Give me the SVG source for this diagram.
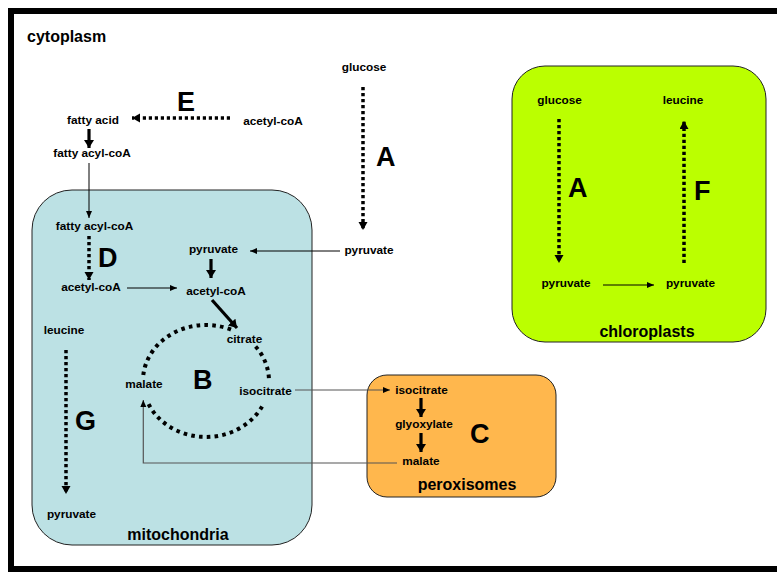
<svg xmlns="http://www.w3.org/2000/svg" width="777" height="574" viewBox="0 0 777 574">
<style>
text{font-family:"Liberation Sans",Arial,Helvetica,sans-serif;font-weight:bold;fill:#000}
.s{font-size:11.8px;text-anchor:middle}
.big{font-size:27px}
.lab{font-size:16px;text-anchor:middle}
.box{stroke:#222;stroke-width:1}
.dot{fill:none;stroke:#000;stroke-width:3.5;stroke-dasharray:3.2 2.8}
.circ{fill:none;stroke:#000;stroke-width:4;stroke-dasharray:3.6 4.2}
.thick{stroke:#000;stroke-width:3.2;fill:none}
.thin{stroke:#000;stroke-width:1;fill:none}
.gray{stroke:#555;stroke-width:1.2;fill:none}
</style>
<defs>
<marker id="hd" markerUnits="userSpaceOnUse" markerWidth="9" markerHeight="10" refX="8" refY="4.5" orient="auto"><path d="M0,0 L8,4.5 L0,9 z" fill="#000"/></marker>
<marker id="hk" markerUnits="userSpaceOnUse" markerWidth="9" markerHeight="11" refX="8" refY="5" orient="auto"><path d="M0,0 L8,5 L0,10 z" fill="#000"/></marker>
<marker id="ht" markerUnits="userSpaceOnUse" markerWidth="8" markerHeight="7" refX="7" refY="3" orient="auto"><path d="M0,0 L7,3 L0,6 z" fill="#000"/></marker>
</defs>
<rect width="777" height="574" fill="#fff"/>
<rect id="cytoplasm-frame" x="11" y="11" width="800" height="558" fill="none" stroke="#000" stroke-width="6"/>
<g id="mitochondria"><rect class="box" x="32" y="190" width="280" height="355" rx="40" fill="#bce1e4"/><text class="lab" x="178" y="540">mitochondria</text></g>
<g id="chloroplasts"><rect class="box" x="512" y="66" width="254" height="276" rx="33" fill="#bbff00"/><text class="lab" x="647" y="337">chloroplasts</text></g>
<g id="peroxisomes"><rect class="box" x="367" y="375" width="189" height="122" rx="20" fill="#ffb74d"/><text class="lab" x="467" y="490">peroxisomes</text></g>
<g id="labels">
<text x="27" y="42" style="font-size:16px">cytoplasm</text>
<text class="big" x="177" y="111">E</text>
<text class="big" x="376" y="166">A</text>
<text class="big" x="98" y="267">D</text>
<text class="big" x="193" y="389">B</text>
<text class="big" x="75" y="430">G</text>
<text class="big" x="470" y="443">C</text>
<text class="big" x="568" y="197">A</text>
<text class="big" x="694" y="200">F</text>
</g>
<g id="n-glucose-cyt"><text class="s" x="364" y="71">glucose</text></g>
<g id="n-fattyacid"><text class="s" x="93" y="124">fatty acid</text></g>
<g id="n-acetylcoa-cyt"><text class="s" x="273" y="125">acetyl-coA</text></g>
<g id="n-fattyacylcoa-cyt"><text class="s" x="92" y="157">fatty acyl-coA</text></g>
<g id="n-pyruvate-cyt"><text class="s" x="369" y="254">pyruvate</text></g>
<g id="n-fattyacylcoa-mito"><text class="s" x="94.5" y="230">fatty acyl-coA</text></g>
<g id="n-acetylcoa-mito1"><text class="s" x="91" y="291">acetyl-coA</text></g>
<g id="n-pyruvate-mito"><text class="s" x="213.5" y="253">pyruvate</text></g>
<g id="n-acetylcoa-mito2"><text class="s" x="216" y="295">acetyl-coA</text></g>
<g id="n-citrate"><text class="s" x="244.5" y="342.5">citrate</text></g>
<g id="n-malate-mito"><text class="s" x="144" y="388">malate</text></g>
<g id="n-isocitrate-mito"><text class="s" x="265.5" y="395">isocitrate</text></g>
<g id="n-leucine-mito"><text class="s" x="64" y="334">leucine</text></g>
<g id="n-pyruvate-mito2"><text class="s" x="71.5" y="518">pyruvate</text></g>
<g id="n-isocitrate-per"><text class="s" x="421.5" y="394">isocitrate</text></g>
<g id="n-glyoxylate"><text class="s" x="424" y="428">glyoxylate</text></g>
<g id="n-malate-per"><text class="s" x="421" y="465">malate</text></g>
<g id="n-glucose-chl"><text class="s" x="559.5" y="104">glucose</text></g>
<g id="n-leucine-chl"><text class="s" x="683" y="104">leucine</text></g>
<g id="n-pyruvate-chl1"><text class="s" x="566" y="287">pyruvate</text></g>
<g id="n-pyruvate-chl2"><text class="s" x="690.5" y="287">pyruvate</text></g>
<g id="connectors">
<line class="dot" x1="230" y1="118" x2="132" y2="118" marker-end="url(#hd)"/>
<line class="thick" x1="89" y1="129" x2="89" y2="148" marker-end="url(#hk)"/>
<line class="thin" x1="89" y1="163" x2="89" y2="218" marker-end="url(#ht)"/>
<line class="dot" x1="89" y1="236" x2="89" y2="280" marker-end="url(#hd)"/>
<line class="thin" x1="127" y1="288" x2="177" y2="288" marker-end="url(#ht)"/>
<line class="thin" x1="340" y1="251" x2="250" y2="251" marker-end="url(#ht)"/>
<line class="thick" x1="211" y1="259" x2="211" y2="278" marker-end="url(#hk)"/>
<line class="thick" x1="212" y1="300" x2="237" y2="328" marker-end="url(#hk)"/>
<line class="dot" x1="363" y1="87" x2="363" y2="230" marker-end="url(#hd)"/>
<line class="dot" x1="66" y1="350" x2="66" y2="494" marker-end="url(#hd)"/>
<line class="gray" x1="295" y1="390" x2="390" y2="390" marker-end="url(#ht)"/>
<line class="thick" x1="421" y1="398" x2="421" y2="417" marker-end="url(#hk)"/>
<line class="thick" x1="421" y1="433" x2="421" y2="452" marker-end="url(#hk)"/>
<polyline class="gray" points="397,463 143.3,463 143.3,400" marker-end="url(#ht)"/>
<line class="dot" x1="559" y1="119" x2="559" y2="263" marker-end="url(#hd)"/>
<line class="dot" x1="684" y1="263" x2="684" y2="121" marker-end="url(#hd)"/>
<line class="thin" x1="603" y1="285" x2="654" y2="285" marker-end="url(#ht)"/>
<path class="circ" d="M143.3,375.1 A63,56 0 0 1 234.6,331.1"/>
<path class="circ" d="M255.6,346.5 A63,56 0 0 1 269,381"/>
<path class="circ" d="M262.1,406.4 A63,56 0 0 1 146.8,400.2"/>
</g>
</svg>
